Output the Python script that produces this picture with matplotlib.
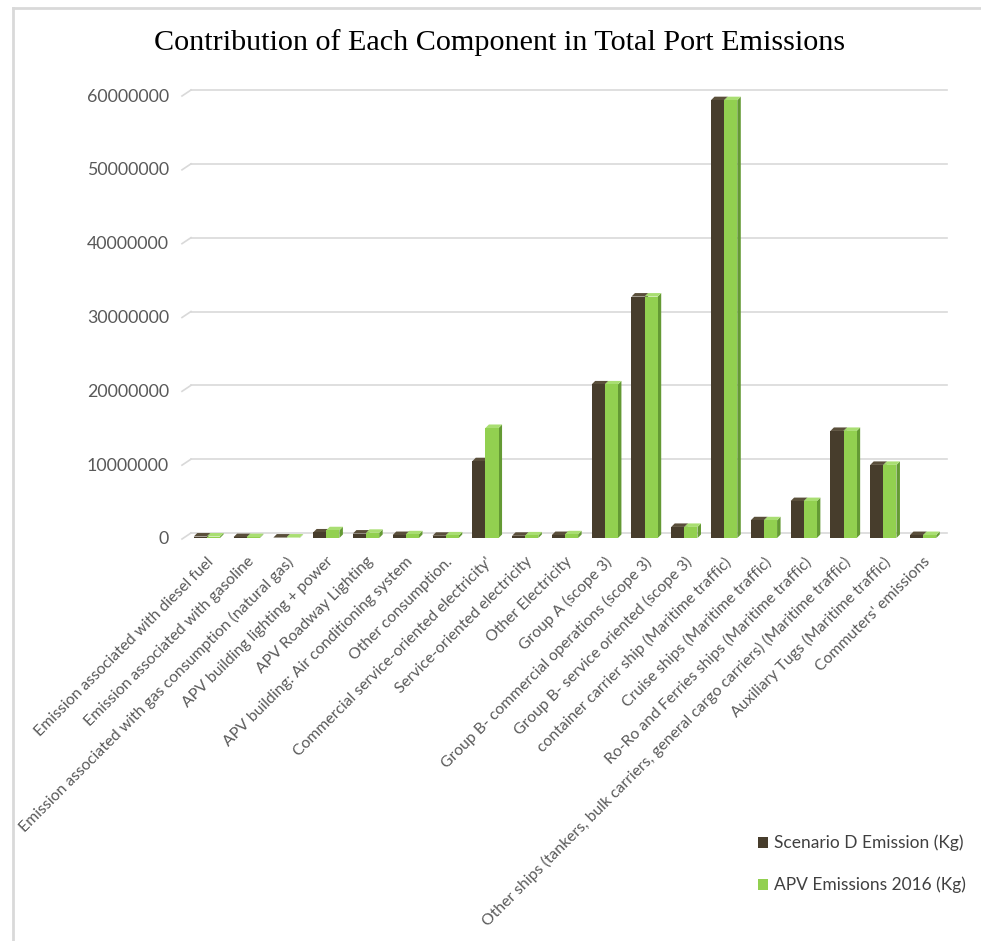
import matplotlib
matplotlib.use("Agg")
import matplotlib.pyplot as plt
import matplotlib.transforms as mtransforms
from matplotlib.patches import Polygon, Patch
from matplotlib.lines import Line2D
import numpy as np

categories = [
    "Emission associated with diesel fuel",
    "Emission associated with gasoline",
    "Emission associated with gas consumption (natural gas)",
    "APV building lighting + power",
    "APV Roadway Lighting",
    "APV building: Air conditioning system",
    "Other consumption.",
    "Commercial service-oriented electricity'",
    "Service-oriented electricity",
    "Other Electricity",
    "Group A (scope 3)",
    "Group B- commercial operations (scope 3)",
    "Group B- service oriented (scope 3)",
    "container carrier ship (Maritime traffic)",
    "Cruise ships (Maritime traffic)",
    "Ro-Ro and Ferries ships (Maritime traffic)",
    "Other ships (tankers, bulk carriers, general cargo carriers) (Maritime traffic)",
    "Auxiliary Tugs (Maritime traffic)",
    "Commuters' emissions",
]
scenario_d = [200000, 120000, 60000, 750000, 600000, 400000, 300000,
              10400000, 300000, 400000, 20800000, 32700000, 1500000,
              59300000, 2400000, 5000000, 14500000, 9900000, 400000]
apv_2016 = [200000, 120000, 60000, 1050000, 700000, 500000, 350000,
            14900000, 350000, 500000, 20800000, 32700000, 1500000,
            59300000, 2400000, 5000000, 14500000, 9900000, 400000]
yticks = [0, 10000000, 20000000, 30000000, 40000000, 50000000, 60000000]
series_names = ["Scenario D Emission (Kg)", "APV Emissions 2016 (Kg)"]

W, H = 981, 941
fig = plt.figure(figsize=(W / 100, H / 100), dpi=100)
fig.patch.set_facecolor("white")

n = len(categories)
left_px, right_px, top_px, bot_px = 187, 943, 95, 538
ax = fig.add_axes([left_px / W, 1 - bot_px / H, (right_px - left_px) / W, (bot_px - top_px) / H])
ax.set_xlim(-0.5, n - 0.5)
ax.set_ylim(0, 60000000)

dark_front = "#473d2c"
dark_side = "#2f2819"
dark_top = "#5a4f3b"
green_front = "#92d050"
green_side = "#649a34"
green_top = "#a9de72"

bw = 0.33
px_per_cat = (right_px - left_px) / n
px_per_val = (bot_px - top_px) / 60000000
dx = 3.5 / px_per_cat
dy = 3.5 / px_per_val

x = np.arange(n)

def draw_series(xs, vals, front, side, top, z):
    bars = ax.bar(xs, vals, width=bw, color=front, zorder=z + 0.5, linewidth=0)
    for b in bars:
        x0 = b.get_x(); w = b.get_width(); h = b.get_height()
        ax.add_patch(Polygon([(x0 + w, 0), (x0 + w + dx, dy), (x0 + w + dx, h + dy), (x0 + w, h)],
                             closed=True, facecolor=side, edgecolor="none", zorder=z))
        ax.add_patch(Polygon([(x0, h), (x0 + w, h), (x0 + w + dx, h + dy), (x0 + dx, h + dy)],
                             closed=True, facecolor=top, edgecolor="none", zorder=z))
    return bars

draw_series(x - bw / 2, scenario_d, dark_front, dark_side, dark_top, 2.5)
draw_series(x + bw / 2, apv_2016, green_front, green_side, green_top, 3.5)

# gridlines on the back wall with small diagonal at the left
grid_tr = mtransforms.offset_copy(ax.get_yaxis_transform(), fig=fig, x=4, y=5, units="dots")
diag_tr0 = mtransforms.offset_copy(ax.get_yaxis_transform(), fig=fig, x=-5, y=-1, units="dots")
inv = fig.transFigure.inverted()
for yv in yticks:
    ax.plot([0, 1], [yv, yv], transform=grid_tr, color="#d9d9d9", lw=1.2, zorder=1, clip_on=False)
    f0 = inv.transform(diag_tr0.transform((0, yv)))
    f1 = inv.transform(grid_tr.transform((0, yv)))
    fig.add_artist(Line2D([f0[0], f1[0]], [f0[1], f1[1]], color="#d9d9d9", lw=1.2))

for s in ax.spines.values():
    s.set_visible(False)

ax.set_yticks(yticks)
ax.set_yticklabels([str(v) for v in yticks])
ax.tick_params(axis="y", length=0, pad=13, labelsize=12.8, labelcolor="#595959")
ax.set_xticks(x)
ax.set_xticklabels(categories, rotation=45, ha="right", rotation_mode="anchor")
ax.tick_params(axis="x", length=0, pad=12, labelsize=11.3, labelcolor="#595959")
for lab in ax.get_xticklabels() + ax.get_yticklabels():
    lab.set_family(["Lato", "DejaVu Sans"])

fig.text(500 / W, 1 - 43 / H, "Contribution of Each Component in Total Port Emissions",
         ha="center", va="center", fontsize=21.7, family=["Liberation Serif"], color="black")

handles = [Patch(facecolor=dark_front), Patch(facecolor=green_front)]
fig.legend(handles, series_names, loc="center left",
           bbox_to_anchor=(742 / W, 1 - 864 / H), frameon=False,
           prop={"family": ["Lato", "DejaVu Sans"], "size": 12.5},
           labelcolor="#404040", handlelength=0.6, handleheight=0.6,
           handletextpad=0.35, labelspacing=1.45)

fig.add_artist(Line2D([13 / W, 13 / W], [0, 1 - 8 / H], color="#d9d9d9", lw=2))
fig.add_artist(Line2D([13 / W, 1], [1 - 8 / H, 1 - 8 / H], color="#d9d9d9", lw=2))

fig.savefig("out.png", dpi=100, facecolor="white")
